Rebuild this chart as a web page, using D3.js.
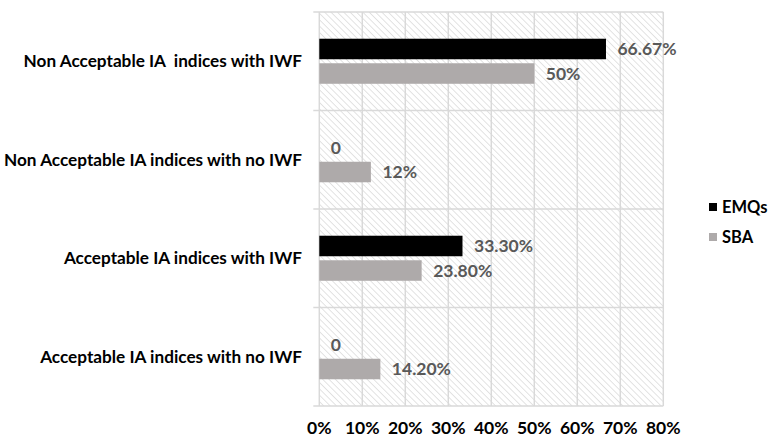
<!DOCTYPE html>
<html><head><meta charset="utf-8">
<script src="https://cdn.jsdelivr.net/npm/d3@7"></script>
<style>
html,body{margin:0;padding:0;background:#fff;}
svg{display:block;}
text{font-family:Lato,"Open Sans",sans-serif;font-weight:bold;white-space:pre;}
</style></head>
<body><svg id="c" width="769" height="437"></svg>
<script>
const categories = ["Non Acceptable IA  indices with IWF","Non Acceptable IA indices with no IWF","Acceptable IA indices with IWF","Acceptable IA indices with no IWF"];
const seriesNames = ["EMQs","SBA"];
const emqsValues = [66.67, 0, 33.3, 0];
const sbaValues = [50, 12, 23.8, 14.2];
const emqsLabels = ["66.67%","0","33.30%","0"];
const sbaLabels = ["50%","12%","23.80%","14.20%"];
const xTicks = [0,10,20,30,40,50,60,70,80];
const colors = {EMQs:"#000000", SBA:"#AEAAAA"};

const svg = d3.select("#c");
const pLeft=319.3, pRight=663.3, pTop=12, pBottom=406;
const x = d3.scaleLinear().domain([0,80]).range([pLeft,pRight]);
const y = d3.scaleBand().domain(categories).range([pTop,pBottom]).padding(0);
const yi = d3.scaleBand().domain(seriesNames).range([0,y.bandwidth()]).paddingInner(0.163).paddingOuter(1.09);

const defs = svg.append("defs");
const pat = defs.append("pattern").attr("id","hatch").attr("patternUnits","userSpaceOnUse")
  .attr("width",4.5).attr("height",4.5).attr("patternTransform","rotate(-45)");
pat.append("rect").attr("width",4.5).attr("height",4.5).attr("fill","#fff");
pat.append("line").attr("x1",0).attr("y1",0).attr("x2",0).attr("y2",4.5).attr("stroke","#dadada").attr("stroke-width",1.5);

svg.append("rect").attr("x",pLeft).attr("y",pTop).attr("width",pRight-pLeft).attr("height",pBottom-pTop).attr("fill","url(#hatch)");

svg.append("g").selectAll("line").data(xTicks).join("line")
  .attr("x1",d=>x(d)).attr("x2",d=>x(d)).attr("y1",pTop).attr("y2",pBottom)
  .attr("stroke","#d9d9d9").attr("stroke-width",1.5);
const sep = categories.map(c=>y(c)).concat([pBottom]);
svg.append("g").selectAll("line").data(sep).join("line")
  .attr("x1",pLeft-6).attr("x2",pRight).attr("y1",d=>d).attr("y2",d=>d)
  .attr("stroke","#d9d9d9").attr("stroke-width",1.5);

const data = [];
categories.forEach((c,i)=>{
  data.push({c,s:"EMQs",v:emqsValues[i],l:emqsLabels[i]});
  data.push({c,s:"SBA",v:sbaValues[i],l:sbaLabels[i]});
});
svg.append("g").selectAll("rect").data(data).join("rect")
  .attr("x",x(0)).attr("y",d=>y(d.c)+yi(d.s)).attr("width",d=>x(d.v)-x(0)).attr("height",yi.bandwidth())
  .attr("fill",d=>colors[d.s]);
svg.append("g").selectAll("text").data(data).join("text")
  .attr("x",d=>x(d.v)+11.5).attr("y",d=>y(d.c)+yi(d.s)+yi.bandwidth()/2).attr("dy","0.36em")
  .attr("fill","#595959").attr("font-size",17.5).text(d=>d.l);

svg.append("g").selectAll("text").data(categories).join("text")
  .attr("x",302).attr("y",d=>y(d)+y.bandwidth()/2).attr("dy","0.36em").attr("text-anchor","end")
  .attr("fill","#000").attr("font-size",17.2).text(d=>d);

svg.append("g").selectAll("text").data(xTicks).join("text")
  .attr("x",d=>x(d)).attr("y",434).attr("text-anchor","middle")
  .attr("fill","#000").attr("font-size",17.5).text(d=>d+"%");

const lg = svg.append("g").selectAll("g").data(seriesNames).join("g")
  .attr("transform",(d,i)=>`translate(709,${203+i*30})`);
lg.append("rect").attr("width",8).attr("height",8).attr("fill",d=>colors[d]);
lg.append("text").attr("x",13).attr("y",4).attr("dy","0.36em").attr("font-size",16.5).attr("fill","#000").text(d=>d);
</script></body></html>
